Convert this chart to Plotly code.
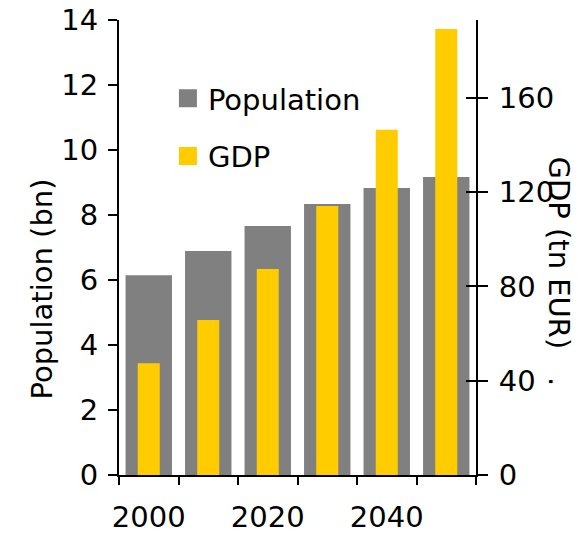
import plotly.graph_objects as go

years = ["2000", "2010", "2020", "2030", "2040", "2050"]
year_labels = ["2000", "", "2020", "", "2040", ""]
population = [6.15, 6.89, 7.66, 8.34, 8.83, 9.17]
gdp = [47.4, 65.8, 87.4, 114.1, 146.4, 189.2]
left_ticks = [0, 2, 4, 6, 8, 10, 12, 14]
right_ticks = [0, 40, 80, 120, 160]

FONT = "DejaVu Sans"
FS = 29
GRAY = "#808080"
YELLOW = "#FFCC00"

fig = go.Figure()
fig.add_trace(go.Bar(x=years, y=population, name="Population", marker_color=GRAY,
                     marker_line_width=0, width=0.78, yaxis="y", showlegend=False))
fig.add_trace(go.Bar(x=years, y=gdp, name="GDP", marker_color=YELLOW,
                     marker_line_width=0, width=0.37, yaxis="y2", showlegend=False))
# helper trace to host the inner tick marks of the right axis
fig.add_trace(go.Scatter(x=years, y=gdp, yaxis="y3", mode="none", showlegend=False,
                         hoverinfo="skip"))
# legend entries (larger square swatches)
for name, col, grp in [("Population", GRAY, "a"), ("GDP", YELLOW, "b")]:
    fig.add_trace(go.Scatter(x=[None], y=[None], mode="markers", name=name,
                             legendgroup=grp,
                             marker=dict(symbol="square", size=16, color=col,
                                         line=dict(color=col, width=2))))

axis_common = dict(showgrid=False, zeroline=False, showline=True, linecolor="black",
                   linewidth=2, tickcolor="black", tickwidth=2, automargin=False,
                   ticklabeloverflow="allow",
                   tickfont=dict(family=FONT, size=FS, color="black"))

fig.update_layout(
    width=578, height=525,
    margin=dict(l=111, r=110, t=12, b=58),
    paper_bgcolor="white", plot_bgcolor="white",
    barmode="overlay",
    font=dict(family=FONT, size=FS, color="black"),
    xaxis=dict(type="category", range=[-0.5, 5.5], tickvals=years, ticktext=year_labels,
               tickson="boundaries", ticks="outside", ticklen=8, ticklabelstandoff=15,
               tickangle=0, **axis_common),
    yaxis=dict(range=[0, 14], tickvals=left_ticks, ticks="outside", ticklen=9,
               ticklabelstandoff=4, **axis_common),
    yaxis2=dict(range=[0, 193], tickvals=right_ticks, overlaying="y", side="right",
                anchor="x", ticks="outside", ticklen=10, ticklabelstandoff=5,
                **axis_common),
    yaxis3=dict(range=[0, 193], tickvals=right_ticks, overlaying="y", side="right",
                anchor="x", ticks="inside", ticklen=10, showticklabels=False,
                showgrid=False, zeroline=False, showline=False, tickcolor="black",
                tickwidth=2, automargin=False),
    legend=dict(x=0.137, y=0.8835, xanchor="left", yanchor="top", bgcolor="rgba(0,0,0,0)",
                font=dict(family=FONT, size=FS, color="black"),
                traceorder="grouped", tracegroupgap=17),
    showlegend=True,
    annotations=[
        dict(text="Population (bn)", xref="paper", yref="paper", x=0, y=0.5,
             xanchor="center", yanchor="middle",
             xshift=-78, yshift=-42, textangle=-90, showarrow=False,
             font=dict(family=FONT, size=FS, color="black")),
        dict(text="GDP (tn EUR)   .", xref="paper", yref="paper", x=1, y=0.5,
             xanchor="center", yanchor="middle",
             xshift=83, yshift=-24, textangle=90, showarrow=False,
             font=dict(family=FONT, size=FS, color="black")),
    ],
)

fig.write_html("out.html")
